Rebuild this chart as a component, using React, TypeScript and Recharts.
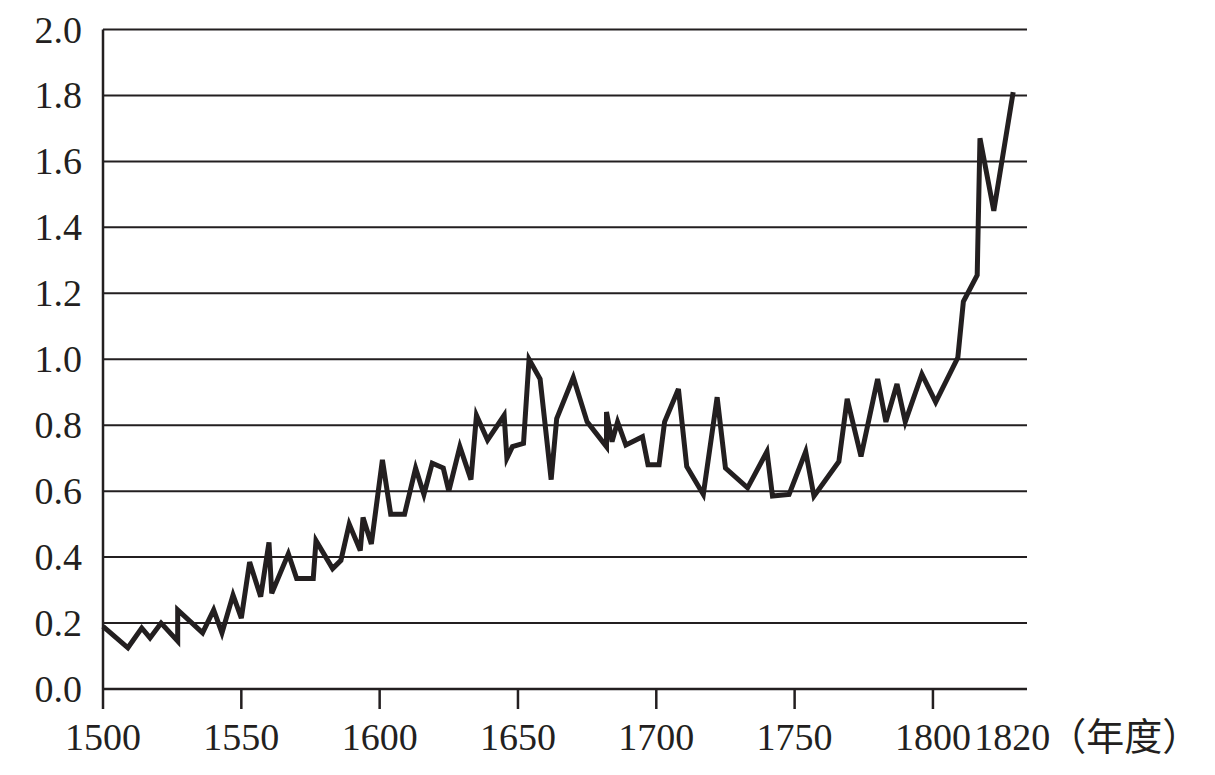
import { LineChart, Line, XAxis, YAxis, CartesianGrid } from "recharts";

const years = [
  1500, 1509, 1514, 1517, 1521, 1527, 1527, 1536, 1540, 1543, 1547, 1550, 1553, 1557, 1560, 1561,
  1567, 1570, 1576, 1577, 1583, 1586, 1589, 1593, 1594, 1597, 1601, 1604, 1609, 1613, 1616, 1619,
  1623, 1625, 1629, 1633, 1635, 1639, 1645, 1646, 1648, 1652, 1654, 1658, 1662, 1664, 1670, 1675,
  1682, 1682, 1684, 1686, 1689, 1695, 1697, 1701, 1703, 1708, 1711, 1717, 1722, 1725, 1733, 1740,
  1742, 1748, 1754, 1757, 1766, 1769, 1774, 1780, 1783, 1787, 1790, 1796, 1801, 1809, 1811, 1816,
  1817, 1822, 1829,
];

const values = [
  0.19, 0.125, 0.185, 0.155, 0.2, 0.145, 0.24, 0.17, 0.24, 0.17, 0.285, 0.215, 0.385, 0.28, 0.445, 0.29,
  0.41, 0.335, 0.335, 0.45, 0.365, 0.39, 0.5, 0.42, 0.52, 0.44, 0.695, 0.53, 0.53, 0.67, 0.59, 0.685,
  0.67, 0.6, 0.735, 0.635, 0.83, 0.755, 0.83, 0.7, 0.735, 0.745, 1.0, 0.94, 0.635, 0.82, 0.945, 0.81,
  0.735, 0.84, 0.75, 0.81, 0.74, 0.765, 0.68, 0.68, 0.81, 0.91, 0.675, 0.59, 0.885, 0.67, 0.61, 0.72,
  0.585, 0.59, 0.72, 0.585, 0.69, 0.88, 0.705, 0.94, 0.81, 0.925, 0.81, 0.955, 0.87, 1.005, 1.175, 1.255,
  1.67, 1.45, 1.81,
];

const xTicks = [1500, 1550, 1600, 1650, 1700, 1750, 1800, 1820];
const yTicks = [0, 0.2, 0.4, 0.6, 0.8, 1.0, 1.2, 1.4, 1.6, 1.8, 2.0];
const unitLabel = "（年度）";

const data = years.map((year, i) => ({ year, value: values[i] }));

const INK = "#231f20";
const SERIF = '"Liberation Serif", "Times New Roman", Times, "DejaVu Serif", serif';
const textStyle = { fontFamily: SERIF, fontSize: 38, fill: INK };

function YearTick(props: any) {
  const { x, y, payload } = props;
  const v = payload.value;
  if (v === 1820) {
    // the 1820 label sits right after 1800, with no tick mark, followed by the unit
    return (
      <g>
        <text x={x + 24} y={y} dy={41} textAnchor="middle" style={textStyle}>
          {v}
        </text>
        <text x={x + 60} y={y} dy={41} textAnchor="start" style={{ fontFamily: '"Noto Sans CJK SC", sans-serif', fontSize: 38, fill: INK }}>
          {unitLabel}
        </text>
      </g>
    );
  }
  return (
    <g>
      <line x1={x} x2={x} y1={y - 20} y2={y} stroke={INK} strokeWidth={2.5} />
      <text x={x} y={y} dy={41} textAnchor="middle" style={textStyle}>
        {v}
      </text>
    </g>
  );
}

function ValueTick(props: any) {
  const { x, y, payload } = props;
  return (
    <text x={x} y={y} dy={13} textAnchor="end" style={textStyle}>
      {payload.value.toFixed(1)}
    </text>
  );
}

export default function App() {
  return (
    <div style={{ position: "absolute", left: 0, top: 0, width: 1215, height: 775, background: "#fff" }}>
      <LineChart width={1215} height={775} data={data} margin={{ top: 29.5, right: 188, left: 8, bottom: 26 }}>
        <CartesianGrid vertical={false} stroke={INK} strokeWidth={2} strokeOpacity={1} />
        <XAxis
          dataKey="year"
          type="number"
          domain={[1500, 1834]}
          ticks={xTicks}
          interval={0}
          height={60}
          tickLine={false}
          tickSize={20}
          tickMargin={0}
          axisLine={{ stroke: INK, strokeWidth: 2.5 }}
          tick={<YearTick />}
        />
        <YAxis
          type="number"
          domain={[0, 2]}
          ticks={yTicks}
          interval={0}
          width={95}
          tickLine={false}
          tickSize={0}
          tickMargin={21}
          axisLine={{ stroke: INK, strokeWidth: 2.5 }}
          tick={<ValueTick />}
        />
        <Line
          dataKey="value"
          type="linear"
          stroke={INK}
          strokeWidth={5}
          strokeLinejoin="miter"
          dot={false}
          activeDot={false}
          isAnimationActive={false}
        />
      </LineChart>
    </div>
  );
}
